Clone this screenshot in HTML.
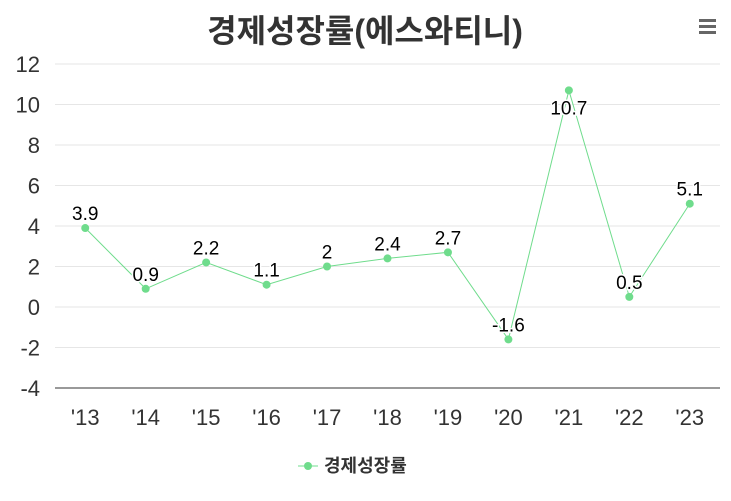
<!DOCTYPE html>
<html><head><meta charset="utf-8"><style>
body{margin:0;background:#fff;}
svg{display:block;font-family:"Liberation Sans","Noto Sans CJK KR",sans-serif;}
</style></head><body>
<svg id="c" width="731" height="501">
<text x="365" y="42" text-anchor="middle" font-size="32" font-weight="bold" fill="#333">경제성장률(에스와티니)</text>
<g><rect x="699" y="19" width="17" height="3" fill="#666"/><rect x="699" y="25" width="17" height="3" fill="#666"/><rect x="699" y="31" width="17" height="3" fill="#666"/></g>
<g id="grid"></g><g id="yl"></g><g id="xl"></g><g id="ser"></g>
<g>
<line x1="298" y1="466" x2="318" y2="466" stroke="#6fdc8c" stroke-width="1"/><circle cx="308" cy="466" r="4" fill="#6fdc8c"/>
<text x="324" y="472" font-size="18" fill="#333" font-weight="bold">경제성장률</text></g>
</svg>
<script>
const categories=["'13","'14","'15","'16","'17","'18","'19","'20","'21","'22","'23"];
const values=[3.9,0.9,2.2,1.1,2,2.4,2.7,-1.6,10.7,0.5,5.1];
const yTicks=[-4,-2,0,2,4,6,8,10,12];
const ns="http://www.w3.org/2000/svg";
const L=55,R=720,T=64,B=388,ymin=-4,ymax=12;
const y=v=>B-(v-ymin)/(ymax-ymin)*(B-T);
const x=i=>L+(R-L)/categories.length*(i+0.5);
function mk(t,a,p){const e=document.createElementNS(ns,t);for(const k in a)e.setAttribute(k,a[k]);p.appendChild(e);return e;}
const g=document.getElementById('grid'),yl=document.getElementById('yl'),xl=document.getElementById('xl'),s=document.getElementById('ser');
yTicks.forEach(v=>{
 const l=mk('line',{x1:L,x2:R,y1:y(v),y2:y(v),stroke:v===ymin?'#333':'#e6e6e6','stroke-width':1},g);
 
 
 const t=mk('text',{x:40,y:y(v)+8,'text-anchor':'end','font-size':22,fill:'#333'},yl);t.textContent=v;
 
 
});
categories.forEach((c,i)=>{
 const t=mk('text',{x:x(i),y:425,'text-anchor':'middle','font-size':22,fill:'#333'},xl);t.textContent=c;
 
 
});
const p=mk('polyline',{points:values.map((v,i)=>x(i)+','+y(v)).join(' '),fill:'none',stroke:'#6fdc8c','stroke-width':1},s);


values.forEach((v,i)=>{
 const c=mk('circle',{cx:x(i),cy:y(v),r:4,fill:'#6fdc8c'},s);
 
 
 const ly=(y(v)-30<T)?y(v)+24:y(v)-8;
 const t=mk('text',{x:x(i),y:ly,'text-anchor':'middle','font-size':19,fill:'#000',stroke:'#fff','stroke-width':3,'paint-order':'stroke'},s);t.textContent=v;
 
 
});
</script>
</body></html>
